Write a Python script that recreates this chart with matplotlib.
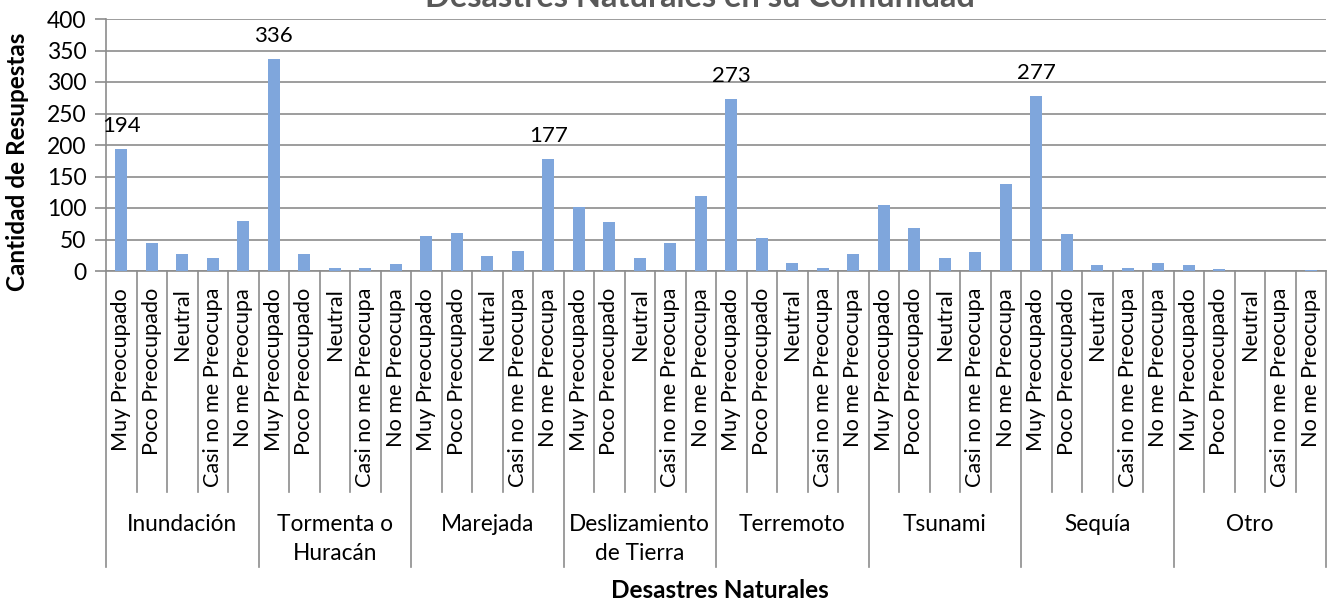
import numpy as np
import matplotlib.pyplot as plt
from matplotlib.transforms import blended_transform_factory

plt.rcParams['font.family'] = ['Lato', 'DejaVu Sans']

# data
grupos = ['Inundación', 'Tormenta o\nHuracán', 'Marejada', 'Deslizamiento\nde Tierra',
          'Terremoto', 'Tsunami', 'Sequía', 'Otro']
niveles = ['Muy Preocupado', 'Poco Preocupado', 'Neutral',
           'Casi no me Preocupa', 'No me Preocupa']

inundacion = [194, 44, 27, 21, 80]
tormenta = [336, 27, 4, 5, 11]
marejada = [55, 60, 24, 32, 177]
deslizamiento = [102, 78, 21, 45, 119]
terremoto = [273, 52, 12, 4, 27]
tsunami = [105, 69, 20, 30, 138]
sequia = [277, 58, 10, 4, 13]
otro = [10, 3, 0, 0, 1]

# bars that carry a value label (index in the flat list)
con_etiqueta = [0, 5, 14, 20, 30]

valores = inundacion + tormenta + marejada + deslizamiento + terremoto + tsunami + sequia + otro
x = np.arange(len(valores))
gris = '#8c8c8c'

fig = plt.figure(figsize=(13.37, 6.01), dpi=100)
ax = fig.add_axes([106/1337, 1-271/601, 1220/1337, 252/601])

ax.bar(x, valores, width=0.4, color='#7FA6DC', zorder=3)
ax.set_xlim(-0.5, len(valores)-0.5)
ax.set_ylim(0, 400)
ax.set_yticks(range(0, 401, 50))
ax.set_xticks([])
ax.yaxis.grid(True, color=gris, lw=1.2)
ax.set_axisbelow(True)
for s in ['top', 'right']:
    ax.spines[s].set_visible(False)
ax.spines['left'].set_color(gris)
ax.spines['bottom'].set_color(gris)
ax.spines['left'].set_linewidth(1.2)
ax.spines['bottom'].set_linewidth(1.2)
ax.tick_params(axis='y', length=8, color=gris, width=1.2, labelsize=16.5, pad=6)

for i in con_etiqueta:
    ax.annotate(str(valores[i]), (x[i], valores[i]), xytext=(0, 9.5),
                textcoords='offset points', ha='center', va='bottom', fontsize=16)

trans = blended_transform_factory(ax.transData, ax.transAxes)

# category labels and separators
for i in range(len(valores)):
    ax.text(x[i], -0.067, niveles[i % 5], rotation=90, ha='center', va='top',
            fontsize=15.6, transform=trans)
for i in range(len(valores)+1):
    y0 = -1.175 if i % 5 == 0 else -0.877
    ax.plot([i-0.5, i-0.5], [0, y0], color=gris, lw=1.2, transform=trans, clip_on=False)

for g, nombre in enumerate(grupos):
    ax.text(g*5+2, -0.965, nombre, ha='center', va='top', fontsize=16.3,
            linespacing=1.45, transform=trans)

fig.text(720/1337, 1-590/601, 'Desastres Naturales', ha='center', va='center',
         fontsize=17.5, fontweight='bold')
fig.text(18/1337, 1-162/601, 'Cantidad de Resupestas', ha='center', va='center',
         rotation=90, fontsize=17.5, fontweight='bold')
fig.text(700/1337, 1-7/601, 'Desastres Naturales en su Comunidad', ha='center',
         va='baseline', fontsize=23.5, fontweight='bold', color='#595959')

fig.savefig('out.png', dpi=100)
